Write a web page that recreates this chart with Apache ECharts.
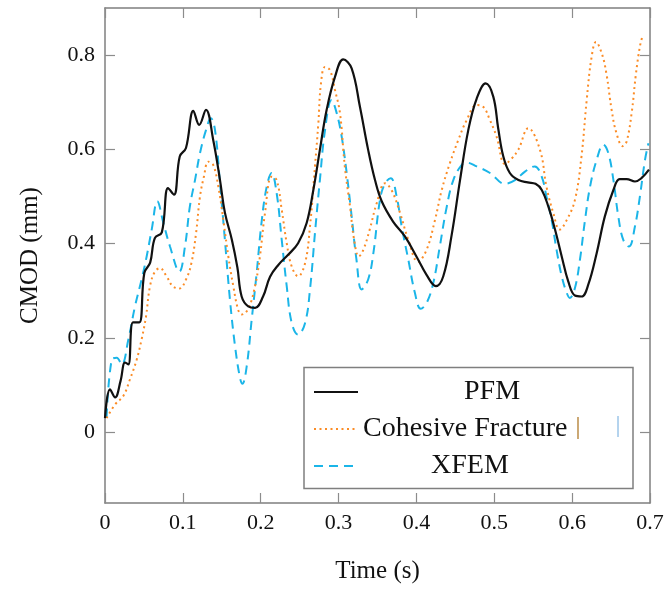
<!DOCTYPE html>
<html>
<head>
<meta charset="utf-8">
<script src="https://cdn.jsdelivr.net/npm/echarts@6/dist/echarts.min.js"></script>
<style>
  html, body { margin: 0; padding: 0; background: #fff; }
  #chart { width: 667px; height: 589px; }
</style>
</head>
<body>
<div id="chart"></div>
<script>
  // 数据：时间 (s) 与 CMOD (mm)
  const pfm = [
    [0, 0.03], [0.0064, 0.091], [0.013, 0.074], [0.020, 0.109], [0.0257, 0.148], [0.030, 0.144],
    [0.036, 0.233], [0.044, 0.233], [0.0505, 0.338], [0.058, 0.36], [0.064, 0.412], [0.073, 0.424],
    [0.081, 0.518], [0.0886, 0.504], [0.096, 0.585], [0.104, 0.603], [0.1135, 0.682], [0.121, 0.652],
    [0.1297, 0.684], [0.139, 0.62], [0.1477, 0.535], [0.154, 0.466], [0.163, 0.408], [0.170, 0.35],
    [0.1755, 0.288], [0.184, 0.267], [0.1927, 0.264], [0.203, 0.288], [0.212, 0.33], [0.2226, 0.355],
    [0.2355, 0.377], [0.248, 0.401], [0.259, 0.444], [0.2676, 0.514], [0.276, 0.599], [0.2847, 0.684],
    [0.2954, 0.754], [0.306, 0.791], [0.3168, 0.772], [0.3275, 0.69], [0.338, 0.599], [0.3468, 0.535],
    [0.3554, 0.49], [0.370, 0.447], [0.385, 0.416], [0.400, 0.373], [0.413, 0.334], [0.425, 0.31],
    [0.4345, 0.331], [0.445, 0.416], [0.456, 0.535], [0.4666, 0.641], [0.4774, 0.708], [0.489, 0.74],
    [0.4987, 0.712], [0.505, 0.645], [0.5116, 0.585], [0.52, 0.55], [0.531, 0.535], [0.543, 0.53],
    [0.553, 0.527], [0.561, 0.514], [0.5694, 0.479], [0.578, 0.43], [0.5866, 0.373], [0.595, 0.32],
    [0.6036, 0.29], [0.6122, 0.288], [0.6207, 0.313], [0.6315, 0.38], [0.642, 0.458], [0.653, 0.514],
    [0.661, 0.537], [0.670, 0.537], [0.6807, 0.532], [0.689, 0.539], [0.6987, 0.557]
  ];
  const cohesive = [
    [0.002, 0.03], [0.013, 0.059], [0.0235, 0.077], [0.032, 0.112], [0.0407, 0.154], [0.047, 0.197],
    [0.0527, 0.246], [0.0578, 0.31], [0.0642, 0.341], [0.0706, 0.348], [0.079, 0.331], [0.087, 0.31],
    [0.0955, 0.305], [0.104, 0.324], [0.111, 0.359], [0.117, 0.423], [0.122, 0.5], [0.127, 0.542],
    [0.1327, 0.574], [0.139, 0.567], [0.1456, 0.521], [0.152, 0.45], [0.1584, 0.373], [0.1648, 0.31],
    [0.171, 0.26], [0.1755, 0.25], [0.184, 0.262], [0.1927, 0.31], [0.199, 0.373], [0.2055, 0.465],
    [0.214, 0.542], [0.2205, 0.535], [0.227, 0.472], [0.2334, 0.401], [0.2398, 0.352], [0.248, 0.331],
    [0.257, 0.359], [0.2633, 0.437], [0.2697, 0.564], [0.274, 0.655], [0.2774, 0.74], [0.2826, 0.775],
    [0.289, 0.768], [0.2954, 0.726], [0.3018, 0.677], [0.308, 0.564], [0.3147, 0.479], [0.32, 0.408],
    [0.326, 0.373], [0.3318, 0.387], [0.340, 0.43], [0.349, 0.486], [0.3596, 0.528], [0.368, 0.514],
    [0.379, 0.465], [0.3896, 0.408], [0.402, 0.362], [0.413, 0.387], [0.4238, 0.45], [0.4325, 0.514],
    [0.443, 0.571], [0.4538, 0.62], [0.4645, 0.662], [0.4774, 0.694], [0.486, 0.69], [0.4945, 0.662],
    [0.503, 0.627], [0.5137, 0.569], [0.522, 0.58], [0.531, 0.6], [0.5437, 0.645], [0.5587, 0.599],
    [0.567, 0.521], [0.5758, 0.465], [0.584, 0.43], [0.593, 0.45], [0.6036, 0.493], [0.612, 0.585],
    [0.6187, 0.705], [0.625, 0.796], [0.6306, 0.828], [0.638, 0.804], [0.644, 0.761], [0.6507, 0.684],
    [0.657, 0.634], [0.665, 0.607], [0.67, 0.617], [0.6764, 0.677], [0.682, 0.761], [0.687, 0.818],
    [0.6906, 0.842]
  ];
  const xfem = [
    [0.002, 0.032], [0.0086, 0.154], [0.015, 0.158], [0.0214, 0.144], [0.030, 0.197], [0.0385, 0.267],
    [0.047, 0.324], [0.0535, 0.373], [0.06, 0.43], [0.0672, 0.49], [0.075, 0.444], [0.0835, 0.394],
    [0.0955, 0.341], [0.1027, 0.394], [0.109, 0.479], [0.1156, 0.535], [0.122, 0.592], [0.1297, 0.641],
    [0.136, 0.666], [0.1413, 0.641], [0.1477, 0.528], [0.154, 0.408], [0.1605, 0.281], [0.167, 0.183],
    [0.1734, 0.115], [0.1765, 0.103], [0.182, 0.14], [0.1884, 0.239], [0.1948, 0.338], [0.201, 0.444],
    [0.2077, 0.521], [0.214, 0.55], [0.2205, 0.507], [0.227, 0.408], [0.2334, 0.31], [0.2398, 0.232],
    [0.248, 0.207], [0.257, 0.232], [0.2633, 0.303], [0.2697, 0.423], [0.276, 0.535], [0.2826, 0.641],
    [0.291, 0.705], [0.2976, 0.677], [0.304, 0.627], [0.3104, 0.55], [0.3168, 0.458], [0.323, 0.366],
    [0.3297, 0.303], [0.338, 0.324], [0.3447, 0.38], [0.3532, 0.493], [0.3596, 0.528], [0.367, 0.539],
    [0.3746, 0.5], [0.381, 0.437], [0.3896, 0.366], [0.398, 0.296], [0.4055, 0.262], [0.413, 0.274],
    [0.4217, 0.317], [0.430, 0.394], [0.439, 0.479], [0.4474, 0.535], [0.458, 0.567], [0.4645, 0.572],
    [0.4774, 0.564], [0.4945, 0.55], [0.5137, 0.527], [0.5266, 0.535], [0.5394, 0.553], [0.552, 0.564],
    [0.561, 0.542], [0.567, 0.5], [0.5737, 0.45], [0.58, 0.387], [0.5866, 0.331], [0.593, 0.296],
    [0.597, 0.285], [0.6036, 0.306], [0.61, 0.366], [0.6165, 0.45], [0.623, 0.521], [0.6315, 0.578],
    [0.640, 0.61], [0.6465, 0.592], [0.653, 0.535], [0.6593, 0.458], [0.6657, 0.408], [0.673, 0.394],
    [0.6807, 0.437], [0.687, 0.5], [0.6936, 0.578], [0.698, 0.613]
  ];
  const yTicks = [0, 0.2, 0.4, 0.6, 0.8];
  const seriesNames = ["PFM", "Cohesive Fracture", "XFEM"];

  const font = "'Liberation Serif', 'DejaVu Serif', serif";
  const frame = { show: true, onZero: false, lineStyle: { color: "#7f7f7f", width: 1.5 } };
  const tickIn = { show: true, inside: true, length: 10, lineStyle: { color: "#8c8c8c", width: 1.2 } };

  let myChart = echarts.init(document.getElementById("chart"));
  let option = {
    animation: false,
    backgroundColor: "#fff",
    grid: { left: 105, right: 17, top: 8, bottom: 85 },
    legend: {
      orient: "vertical",
      left: 313,
      top: 377,
      padding: 0,
      itemWidth: 44,
      itemHeight: 14,
      itemGap: 7,
      data: seriesNames,
      itemStyle: { color: "rgba(0,0,0,0)", borderWidth: 0, opacity: 0 },
      formatter: function (name) {
        if (name === "PFM") return "{pfm|PFM}";
        if (name === "XFEM") return "{xfem|XFEM}";
        return "{coh|Cohesive Fracture}";
      },
      textStyle: {
        fontFamily: font, fontSize: 28, lineHeight: 30, color: "#111",
        rich: {
          pfm: { fontFamily: font, fontSize: 28, lineHeight: 30, color: "#111", padding: [0, 0, 0, 101] },
          coh: { fontFamily: font, fontSize: 28, lineHeight: 30, color: "#111", padding: [0, 0, 0, 0] },
          xfem: { fontFamily: font, fontSize: 28, lineHeight: 30, color: "#111", padding: [0, 0, 0, 68] }
        }
      }
    },
    graphic: [
      {
        type: "rect",
        shape: { x: 304, y: 367.5, width: 329, height: 121 },
        style: { fill: "rgba(0,0,0,0)", stroke: "#7f7f7f", lineWidth: 1.5 },
        z: 100
      },
      {
        type: "line",
        shape: { x1: 578, y1: 417, x2: 578, y2: 439 },
        style: { stroke: "#b07a2a", lineWidth: 1.3 },
        z: 100
      },
      {
        type: "line",
        shape: { x1: 618, y1: 416, x2: 618, y2: 437 },
        style: { stroke: "#6aa8dd", lineWidth: 1 },
        z: 100
      }
    ],
    xAxis: [
      {
        type: "value",
        min: 0,
        max: 0.7,
        interval: 0.1,
        name: "Time (s)",
        nameLocation: "middle",
        nameGap: 56,
        nameTextStyle: { fontFamily: font, fontSize: 25, color: "#111" },
        axisLine: frame,
        axisTick: tickIn,
        splitLine: { show: false },
        axisLabel: { fontFamily: font, fontSize: 22, color: "#111", margin: 9 }
      },
      {
        type: "value",
        position: "top",
        min: 0,
        max: 0.7,
        interval: 0.1,
        axisLine: frame,
        axisTick: tickIn,
        axisLabel: { show: false },
        splitLine: { show: false }
      }
    ],
    yAxis: [
      {
        type: "value",
        position: "left",
        min: -0.15,
        max: 0.9,
        name: "CMOD (mm)",
        nameLocation: "middle",
        nameGap: 62,
        nameTextStyle: { fontFamily: font, fontSize: 25, color: "#111" },
        axisLine: frame,
        axisTick: Object.assign({ customValues: yTicks }, tickIn),
        splitLine: { show: false },
        axisLabel: { customValues: yTicks, fontFamily: font, fontSize: 22, color: "#111", margin: 10 }
      },
      {
        type: "value",
        position: "right",
        min: -0.15,
        max: 0.9,
        axisLine: frame,
        axisTick: Object.assign({ customValues: yTicks }, tickIn),
        axisLabel: { show: false },
        splitLine: { show: false }
      }
    ],
    series: [
      {
        name: "PFM",
        type: "line",
        data: pfm,
        smooth: 0.4,
        showSymbol: false,
        symbol: "none",
        clip: true,
        z: 3,
        lineStyle: { color: "#111", width: 2.2 },
        itemStyle: { color: "#111" }
      },
      {
        name: "Cohesive Fracture",
        type: "line",
        data: cohesive,
        smooth: 0.4,
        showSymbol: false,
        symbol: "none",
        clip: true,
        z: 2,
        lineStyle: { color: "#fb8c26", width: 2, type: [2, 3.5] },
        itemStyle: { color: "#fb8c26" }
      },
      {
        name: "XFEM",
        type: "line",
        data: xfem,
        smooth: 0.4,
        showSymbol: false,
        symbol: "none",
        clip: true,
        z: 1,
        lineStyle: { color: "#1bb5e8", width: 2, type: [9, 6] },
        itemStyle: { color: "#1bb5e8" }
      }
    ]
  };
  myChart.setOption(option);
  window.addEventListener("resize", () => {
    myChart.resize();
  });
</script>
</body>
</html>
